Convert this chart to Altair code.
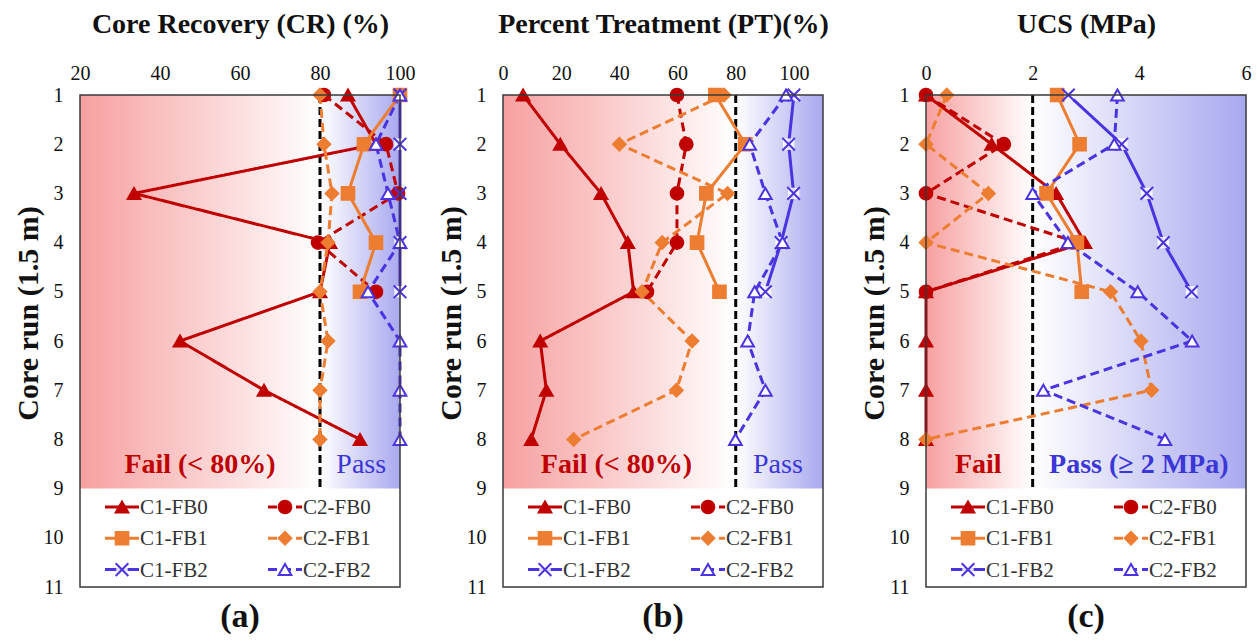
import altair as alt
import pandas as pd

runs = [1, 2, 3, 4, 5, 6, 7, 8]
series = ["C1-FB0", "C2-FB0", "C1-FB1", "C2-FB1", "C1-FB2", "C2-FB2"]

# (a) Core Recovery (%)
cr_c1_fb0 = [87, 94, 33.5, 82.5, 80, 45, 66, 90]
cr_c2_fb0 = [81, 96.5, 99.5, 79.5, 94]
cr_c1_fb1 = [100, 91, 87, 94, 90]
cr_c2_fb1 = [80, 81, 83, 82, 80, 82, 80, 80]
cr_c1_fb2 = [100, 100, 100, 100, 100]
cr_c2_fb2 = [100, 94, 97, 100, 92, 100, 100, 100]

# (b) Percent Treatment (%)
pt_c1_fb0 = [6.9, 19.7, 33.7, 42.9, 44.9, 12.8, 14.9, 9.7]
pt_c2_fb0 = [59.8, 63, 59.8, 59.8, 49.5]
pt_c1_fb1 = [73, 83.3, 69.9, 66.7, 74.4]
pt_c2_fb1 = [76, 40, 77.2, 54.7, 47.8, 65, 59.6, 24.3]
pt_c1_fb2 = [100, 98.2, 99.9, 95.6, 90.2]
pt_c2_fb2 = [97.3, 84.8, 90.2, 96.1, 86.5, 84.1, 90.2, 79.9]

# (c) UCS (MPa)
ucs_c1_fb0 = [0, 1.23, 2.44, 2.98, 0, 0, 0, 0]
ucs_c2_fb0 = [0, 1.46, 0, 2.85, 0]
ucs_c1_fb1 = [2.46, 2.88, 2.26, 2.83, 2.92]
ucs_c2_fb1 = [0.39, 0, 1.17, 0, 3.46, 4.03, 4.23, 0]
ucs_c1_fb2 = [2.67, 3.67, 4.14, 4.45, 4.98]
ucs_c2_fb2 = [3.59, 3.53, 2.0, 2.66, 3.97, 4.99, 2.2, 4.48]

y_ticks = [1, 2, 3, 4, 5, 6, 7, 8, 9, 10, 11]
cr_ticks = [20, 40, 60, 80, 100]
pt_ticks = [0, 20, 40, 60, 80, 100]
ucs_ticks = [0, 2, 4, 6]

FONT = "Liberation Serif"
RED = "#C00000"
ORANGE = "#ED7D31"
BLUE = "#4A33E0"
colors = [RED, RED, ORANGE, ORANGE, BLUE, BLUE]
dashes = [[1, 0], [9, 5], [1, 0], [9, 5], [1, 0], [9, 5]]
XPATH = "M-1,-1L1,1M-1,1L1,-1"
shapes = ["triangle-up", "circle", "square", "diamond", XPATH, "triangle-up"]
fills = [RED, RED, ORANGE, ORANGE, "transparent", "white"]
strokes = [RED, RED, ORANGE, ORANGE, BLUE, BLUE]
MSIZE = 160

W, H = 320, 492


def make_df(lists):
    rows = []
    for s, vals in zip(series, lists):
        for r, v in zip(runs, vals):
            rows.append({"series": s, "run": r, "value": v})
    return pd.DataFrame(rows)


def panel(lists, dom, ticks, thr, title, letter, fail_txt, fail_x, pass_txt, pass_x, pass_bold):
    df = make_df(lists)
    frac = (thr - dom[0]) / (dom[1] - dom[0])
    xs = alt.Scale(domain=dom, nice=False, zero=False)
    ys = alt.Scale(domain=[1, 11], reverse=True, nice=False, zero=False)
    xaxis = alt.Axis(orient="top", values=ticks, title=title, grid=False, ticks=False, domain=False,
                     labelFont=FONT, labelFontSize=20, labelColor="#111", labelPadding=12,
                     labelFlush=False, labelOverlap=False,
                     titleFont=FONT, titleFontSize=28, titleFontWeight="bold", titleColor="#111",
                     titlePadding=25)
    yaxis = alt.Axis(values=y_ticks, title="Core run (1.5 m)", grid=False, ticks=False, domain=False,
                     format="d", labelFont=FONT, labelFontSize=20, labelColor="#111", labelPadding=17,
                     labelOverlap=False,
                     titleFont=FONT, titleFontSize=30, titleFontWeight="bold", titleColor="#111",
                     titleX=-52, titleY=218, titleBaseline="middle", titleAngle=-90)

    grad = alt.Gradient(gradient="linear", x1=0, x2=1, y1=0, y2=0,
                        stops=[alt.GradientStop(color="#F7A0A0", offset=0),
                               alt.GradientStop(color="#FFFFFF", offset=frac),
                               alt.GradientStop(color="#A8A8F0", offset=1)])
    one = pd.DataFrame({"k": [0]})
    bg = alt.Chart(one).mark_rect(color=grad).encode(
        x=alt.X("dx:Q", scale=xs, axis=xaxis), x2="dx2:Q",
        y=alt.Y("dy:Q", scale=ys, axis=yaxis), y2="dy2:Q",
    ).transform_calculate(dx=str(dom[0]), dx2=str(dom[1]), dy="1", dy2="9")

    thr_rule = alt.Chart(one).mark_rule(color="black", strokeWidth=3, strokeDash=[8, 4]).encode(
        x=alt.datum(thr), y=alt.datum(1), y2=alt.datum(9))

    line = alt.Chart(df).mark_line(strokeWidth=3).encode(
        x=alt.X("value:Q", scale=xs),
        y=alt.Y("run:Q", scale=ys),
        color=alt.Color("series:N", scale=alt.Scale(domain=series, range=colors), legend=None),
        strokeDash=alt.StrokeDash("series:N", scale=alt.Scale(domain=series, range=dashes), legend=None),
        detail="series:N",
        order="run:Q",
    )
    xbox = alt.Chart(df).transform_filter(alt.datum.series == "C1-FB2").mark_point(
        shape="square", filled=True, color="white", opacity=0.85, size=130).encode(
        x=alt.X("value:Q", scale=xs), y=alt.Y("run:Q", scale=ys))
    pts = alt.Chart(df).mark_point(size=MSIZE, strokeWidth=2, opacity=1, fillOpacity=1).encode(
        x=alt.X("value:Q", scale=xs),
        y=alt.Y("run:Q", scale=ys),
        shape=alt.Shape("series:N", scale=alt.Scale(domain=series, range=shapes), legend=None),
        fill=alt.Fill("series:N", scale=alt.Scale(domain=series, range=fills), legend=None),
        stroke=alt.Stroke("series:N", scale=alt.Scale(domain=series, range=strokes), legend=None),
    )

    fail = alt.Chart(one).mark_text(text=fail_txt, font=FONT, fontSize=28, fontWeight="bold",
                                    color=RED, baseline="middle").encode(
        x=alt.datum(fail_x), y=alt.datum(8.52))
    pas = alt.Chart(one).mark_text(text=pass_txt, font=FONT, fontSize=28,
                                   fontWeight="bold" if pass_bold else "normal",
                                   color="#3B36D6", baseline="middle").encode(
        x=alt.datum(pass_x), y=alt.datum(8.52))

    frame = alt.Chart(one).mark_rect(fill="transparent", stroke="#3a3a3a", strokeWidth=1.5).encode(
        x=alt.datum(dom[0]), x2=alt.datum(dom[1]), y=alt.datum(1), y2=alt.datum(11))

    layers = [bg, thr_rule, line, xbox, pts, fail, pas]

    # legend (drawn inside the plot area, below run 9)
    for i, s in enumerate(series):
        col, row = i % 2, i // 2
        x0 = 25 + col * 163
        yy = 412 + row * 31.3
        layers.append(alt.Chart(one).mark_rule(color=colors[i], strokeWidth=3,
                                               strokeDash=dashes[i]).encode(
            x=alt.value(x0), x2=alt.value(x0 + 34), y=alt.value(yy)))
        if i == 4:
            layers.append(alt.Chart(one).mark_point(shape="square", filled=True, color="white",
                                                    opacity=0.85, size=130).encode(
                x=alt.value(x0 + 17), y=alt.value(yy)))
        layers.append(alt.Chart(one).mark_point(shape=shapes[i], fill=fills[i], stroke=strokes[i],
                                                size=MSIZE, strokeWidth=2, opacity=1,
                                                fillOpacity=1).encode(
            x=alt.value(x0 + 17), y=alt.value(yy)))
        layers.append(alt.Chart(one).mark_text(text=s, font=FONT, fontSize=21, color="#333",
                                               align="left", baseline="middle").encode(
            x=alt.value(x0 + 35), y=alt.value(yy + 1)))
    layers.append(frame)

    return alt.layer(*layers).properties(
        width=W, height=H,
        title=alt.TitleParams(letter, orient="bottom", font=FONT, fontSize=34, fontWeight="bold",
                              color="#111", offset=3, anchor="middle"))


pa = panel([cr_c1_fb0, cr_c2_fb0, cr_c1_fb1, cr_c2_fb1, cr_c1_fb2, cr_c2_fb2],
           [20, 100], cr_ticks, 80, "Core Recovery (CR) (%)", "(a)",
           "Fail (< 80%)", 50, "Pass", 90.3, False)
pb = panel([pt_c1_fb0, pt_c2_fb0, pt_c1_fb1, pt_c2_fb1, pt_c1_fb2, pt_c2_fb2],
           [0, 110], pt_ticks, 80, "Percent Treatment (PT)(%)", "(b)",
           "Fail (< 80%)", 39, "Pass", 94.5, False)
pc = panel([ucs_c1_fb0, ucs_c2_fb0, ucs_c1_fb1, ucs_c2_fb1, ucs_c1_fb2, ucs_c2_fb2],
           [0, 6], ucs_ticks, 2, "UCS (MPa)", "(c)",
           "Fail", 0.98, "Pass (\u2265 2 MPa)", 3.99, True)

chart = alt.hconcat(pa, pb, pc, spacing=103, bounds="flush").resolve_scale(
    x="independent", y="independent", color="independent", strokeDash="independent",
    shape="independent", fill="independent", stroke="independent"
).properties(
    padding={"left": 13, "top": 10, "right": 5, "bottom": 5},
    background="white",
).configure_view(stroke=None)

chart.save("out.html", embed_options={"renderer": "svg", "actions": False})
